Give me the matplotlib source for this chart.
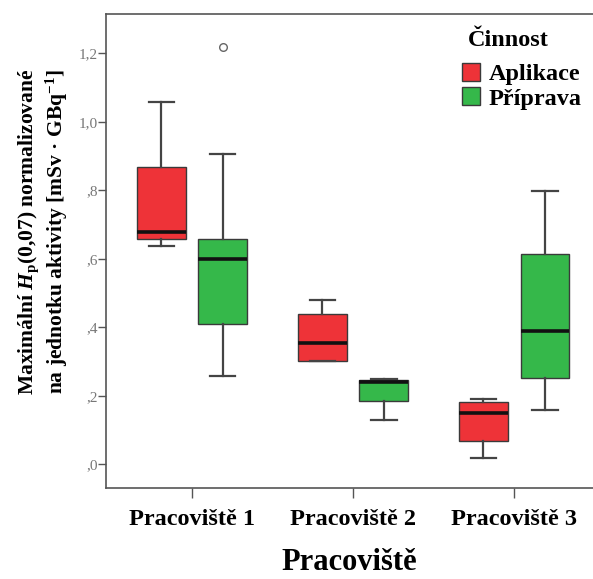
import matplotlib.pyplot as plt
import matplotlib.transforms as mtransforms
from matplotlib.patches import Patch

plt.rcParams['font.family'] = ['Liberation Serif', 'DejaVu Serif']
plt.rcParams['mathtext.fontset'] = 'custom'
plt.rcParams['mathtext.rm'] = 'Liberation Serif:bold'
plt.rcParams['mathtext.it'] = 'Liberation Serif:italic:bold'

# summary statistics (SPSS boxplot)
sites = ['Pracoviště 1', 'Pracoviště 2', 'Pracoviště 3']
groups = ['Aplikace', 'Příprava']
colors = ['#EE3338', '#35B84A']

whislo = {'Aplikace': [0.638, 0.301, 0.019], 'Příprava': [0.258, 0.129, 0.159]}
q1 = {'Aplikace': [0.658, 0.301, 0.068], 'Příprava': [0.409, 0.185, 0.253]}
med = {'Aplikace': [0.679, 0.354, 0.149], 'Příprava': [0.599, 0.240, 0.388]}
q3 = {'Aplikace': [0.869, 0.438, 0.183], 'Příprava': [0.658, 0.245, 0.614]}
whishi = {'Aplikace': [1.058, 0.480, 0.190], 'Příprava': [0.907, 0.250, 0.799]}
fliers = {'Aplikace': [[], [], []], 'Příprava': [[1.218], [], []]}

yticks = [0.0, 0.2, 0.4, 0.6, 0.8, 1.0, 1.2]
ytick_labels = [',0', ',2', ',4', ',6', ',8', '1,0', '1,2']

fig = plt.figure(figsize=(5.93, 5.79), dpi=100)
ax = fig.add_axes([106 / 593, 1 - 488 / 579, 1 - 106 / 593, (488 - 14) / 579])

offsets = [-0.19, 0.19]
for g, off, col in zip(groups, offsets, colors):
    stats = []
    for i in range(len(sites)):
        stats.append(dict(whislo=whislo[g][i], q1=q1[g][i], med=med[g][i],
                          q3=q3[g][i], whishi=whishi[g][i], fliers=fliers[g][i]))
    pos = [i + 1 + off for i in range(len(sites))]
    ax.bxp(stats, positions=pos, widths=0.30, patch_artist=True,
           showfliers=True, manage_ticks=False,
           boxprops=dict(facecolor=col, edgecolor='#3a3a3a', linewidth=1.0),
           medianprops=dict(color='#111111', linewidth=2.6),
           whiskerprops=dict(color='#444444', linewidth=1.6),
           capprops=dict(color='#444444', linewidth=1.6),
           capwidths=0.16,
           flierprops=dict(marker='o', markerfacecolor='none',
                           markeredgecolor='#666666', markersize=5.5,
                           markeredgewidth=1.0))

ax.set_xlim(0.466, 3.49)
ax.set_ylim(-0.069, 1.315)
ax.set_xticks([1, 2, 3])
ax.set_xticklabels(sites, fontsize=17.5, fontweight='bold')
# first label sits a little left of its tick in the original
lab0 = ax.get_xticklabels()[0]
lab0.set_transform(lab0.get_transform() +
                   mtransforms.ScaledTranslation(-6 / 100, 0, fig.dpi_scale_trans))
ax.set_yticks(yticks)
ax.set_yticklabels(ytick_labels, fontsize=11, color='#777777')
ax.tick_params(axis='y', length=6, width=1, color='#555555', pad=0)
ax.tick_params(axis='x', length=7, width=1, color='#555555', pad=8)
for s in ['left', 'top', 'bottom']:
    ax.spines[s].set_color('#555555')
    ax.spines[s].set_linewidth(1.2)
ax.spines['right'].set_visible(False)

ax.set_xlabel('Pracoviště', fontsize=22, fontweight='bold', labelpad=13)
ax.set_ylabel('Maximální $H_\\mathrm{p}$(0,07) normalizované\n'
              'na jednotku aktivity [mSv · GBq$^{-1}$]',
              fontsize=15.5, fontweight='bold', linespacing=1.15)
ax.yaxis.set_label_coords(-0.074, 0.54)

# legend: title drawn separately so the gap above the entries matches
fig.text(468 / 593, 1 - 40 / 579, 'Činnost', fontsize=17.5, fontweight='bold',
         ha='left', va='center')
handles = [Patch(facecolor=c, edgecolor='#3a3a3a', label=g) for g, c in zip(groups, colors)]
ax.legend(handles=handles, loc='upper left',
          bbox_to_anchor=(462 / 593, 1 - 63 / 579), bbox_transform=fig.transFigure,
          frameon=False, prop=dict(size=17.5, weight='bold'),
          handlelength=0.75, handleheight=0.75, handletextpad=0.35,
          labelspacing=0.08, borderaxespad=0, borderpad=0)

fig.savefig('out.png', dpi=100)
